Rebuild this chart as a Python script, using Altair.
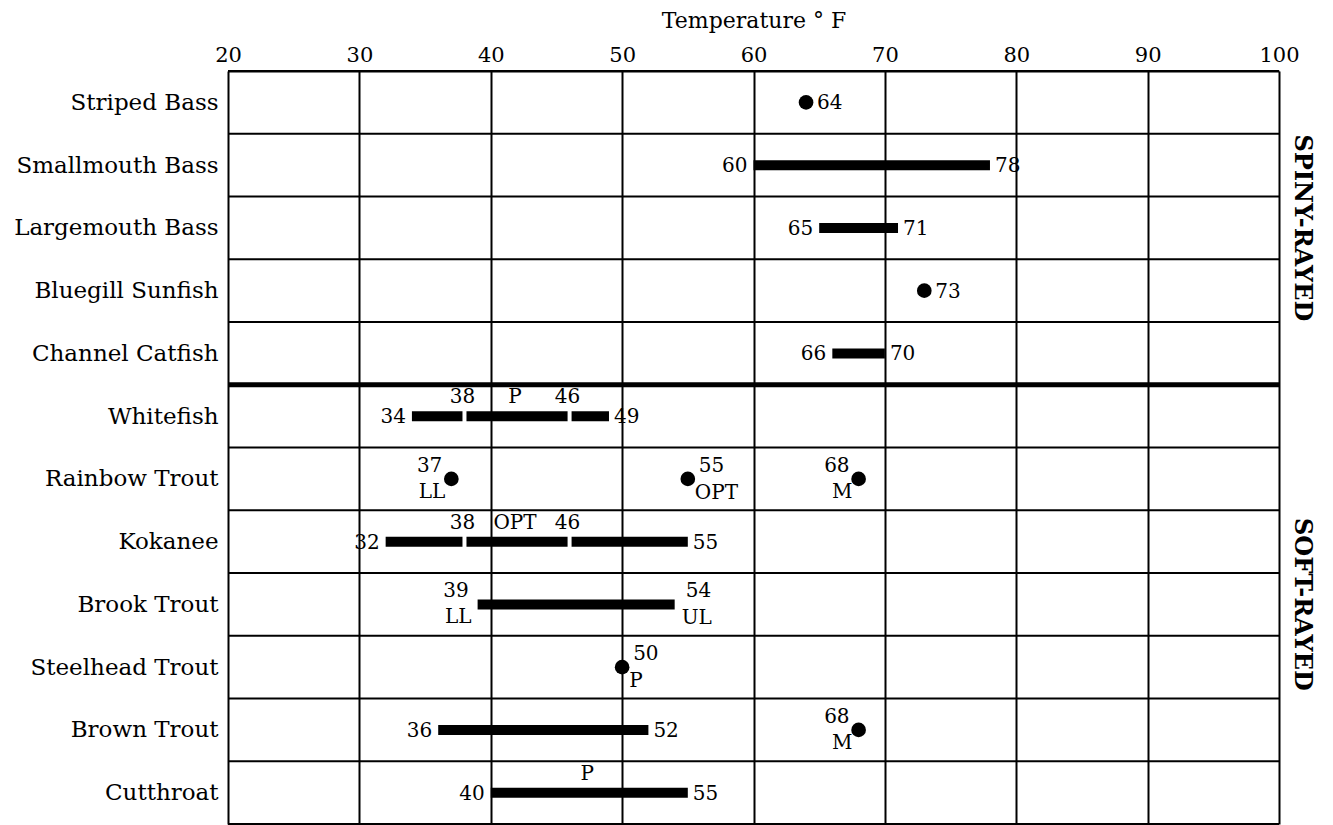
import altair as alt
import pandas as pd

FONT = "DejaVu Serif"

species = ["Striped Bass", "Smallmouth Bass", "Largemouth Bass", "Bluegill Sunfish",
           "Channel Catfish", "Whitefish", "Rainbow  Trout", "Kokanee", "Brook Trout",
           "Steelhead Trout", "Brown Trout", "Cutthroat"]

bar_species = ["Smallmouth Bass", "Largemouth Bass", "Channel Catfish", "Whitefish",
               "Kokanee", "Brook Trout", "Brown Trout", "Cutthroat"]
bar_low = [60, 65, 66, 34, 32, 39, 36, 40]
bar_high = [78, 71, 70, 49, 55, 54, 52, 55]

break_species = ["Whitefish", "Whitefish", "Kokanee", "Kokanee"]
break_temp = [38, 46, 38, 46]

dot_species = ["Striped Bass", "Bluegill Sunfish", "Rainbow  Trout", "Rainbow  Trout",
               "Rainbow  Trout", "Steelhead Trout", "Brown Trout"]
dot_temp = [64, 73, 37, 55, 68, 50, 68]

ann_species = (["Striped Bass"] + ["Smallmouth Bass"] * 2 + ["Largemouth Bass"] * 2
               + ["Bluegill Sunfish"] + ["Channel Catfish"] * 2 + ["Whitefish"] * 5
               + ["Rainbow  Trout"] * 6 + ["Kokanee"] * 5 + ["Brook Trout"] * 4
               + ["Steelhead Trout"] * 2 + ["Brown Trout"] * 4 + ["Cutthroat"] * 3)
ann_temp = [64, 60, 78, 65, 71, 73, 66, 70,
            34, 49, 38, 42, 46,
            37, 37, 55, 55, 68, 68,
            32, 55, 38, 42, 46,
            39, 39, 54, 54,
            50, 50,
            36, 52, 68, 68,
            40, 55, 47.5]
ann_text = ["64", "60", "78", "65", "71", "73", "66", "70",
            "34", "49", "38", "P", "46",
            "37", "LL", "55", "OPT", "68", "M",
            "32", "55", "38", "OPT", "46",
            "39", "LL", "54", "UL",
            "50", "P",
            "36", "52", "68", "M",
            "40", "55", "P"]
ann_place = ["dot_right", "left", "right", "left", "right", "dot_right", "left", "right",
             "left", "right", "above", "above", "above",
             "upper_left", "lower_left", "upper_right", "lower_right", "upper_left", "lower_left",
             "left", "right", "above", "above", "above",
             "upper_left", "lower_left", "upper_right", "lower_right",
             "upper_right", "lower_right",
             "left", "right", "upper_left", "lower_left",
             "left", "right", "above"]

group_names = ["SPINY-RAYED", "SOFT-RAYED"]
group_first_row = [0, 5]
group_last_row = [5, 12]

x_ticks = list(range(20, 101, 10))

# ---- tables ----
row_of = {s: i + 0.5 for i, s in enumerate(species)}
bars = pd.DataFrame({"species": bar_species, "low": bar_low, "high": bar_high})
bars["row"] = bars["species"].map(row_of)
breaks = pd.DataFrame({"species": break_species, "temp": break_temp})
breaks["row"] = breaks["species"].map(row_of)
dots = pd.DataFrame({"species": dot_species, "temp": dot_temp})
dots["row"] = dots["species"].map(row_of)
ann = pd.DataFrame({"species": ann_species, "temp": ann_temp, "text": ann_text, "place": ann_place})
ann["row"] = ann["species"].map(row_of)
bounds = pd.DataFrame({"b": list(range(len(species) + 1))})
bounds["w"] = [5 if b == 5 else 2 for b in bounds["b"]]
groups = pd.DataFrame({"name": group_names,
                       "mid": [(a + b) / 2 for a, b in zip(group_first_row, group_last_row)]})

label_expr = "[" + ",".join("'" + s + "'" for s in species) + "][floor(datum.value)]"

xscale = alt.Scale(domain=[20, 100], nice=False, zero=False)
yscale = alt.Scale(domain=[0, len(species)], reverse=True, nice=False, zero=False)

x_axis = alt.Axis(orient="top", values=x_ticks, grid=True, gridColor="black", gridWidth=2,
                  gridOpacity=1, domainColor="black", domainWidth=2, ticks=False,
                  labelFontSize=21, labelFont=FONT, labelColor="black", labelPadding=6,
                  labelFlush=False, title="Temperature ° F", titleFontSize=22,
                  titleFont=FONT, titleFontWeight="normal", titleColor="black",
                  titlePadding=12)
y_axis = alt.Axis(values=[i + 0.5 for i in range(len(species))], labelExpr=label_expr,
                  grid=False, ticks=False, domain=False, labelFontSize=23, labelFont=FONT,
                  labelColor="black", labelPadding=10, labelLimit=400,
                  minExtent=220, maxExtent=220, title=None)

frame = alt.Chart(bounds).mark_rule(color="black").encode(
    y=alt.Y("b:Q", scale=yscale, axis=y_axis),
    strokeWidth=alt.StrokeWidth("w:Q", scale=None),
)

bar_layer = alt.Chart(bars).mark_rule(color="black", strokeWidth=10, strokeCap="butt").encode(
    x=alt.X("low:Q", scale=xscale, axis=x_axis),
    x2="high:Q",
    y=alt.Y("row:Q", scale=yscale),
)

break_layer = alt.Chart(breaks).mark_tick(color="white", thickness=4, size=16,
                                          orient="vertical", opacity=1).encode(
    x=alt.X("temp:Q", scale=xscale),
    y=alt.Y("row:Q", scale=yscale),
)

dot_layer = alt.Chart(dots).mark_circle(color="black", size=215, opacity=1).encode(
    x=alt.X("temp:Q", scale=xscale),
    y=alt.Y("row:Q", scale=yscale),
)

placements = {
    "left": dict(align="right", dx=-6, dy=1),
    "right": dict(align="left", dx=5, dy=1),
    "dot_right": dict(align="left", dx=11, dy=1),
    "above": dict(align="center", dx=-2, dy=-19),
    "upper_left": dict(align="right", dx=-9, dy=-13),
    "lower_left": dict(align="right", dx=-6, dy=13),
    "upper_right": dict(align="left", dx=11, dy=-13),
    "lower_right": dict(align="left", dx=7, dy=14),
}

text_layers = []
for key, p in placements.items():
    text_layers.append(
        alt.Chart(ann).transform_filter(alt.datum.place == key).mark_text(
            font=FONT, fontSize=20, color="black", baseline="middle", **p
        ).encode(
            x=alt.X("temp:Q", scale=xscale),
            y=alt.Y("row:Q", scale=yscale),
            text="text:N",
        )
    )

W = 1051
H = 753

group_layer = alt.Chart(groups).mark_text(
    font=FONT, fontSize=24, fontWeight="bold", color="black", angle=90,
    align="center", baseline="middle"
).encode(
    x=alt.value(W + 23),
    y=alt.Y("mid:Q", scale=yscale),
    text="name:N",
)

chart = alt.layer(frame, bar_layer, break_layer, dot_layer, *text_layers, group_layer).properties(
    width=W, height=H,
    padding={"left": 0, "top": 1, "right": 5, "bottom": 0},
    background="white",
).configure_view(strokeWidth=0)

chart.save("out.html", embed_options={"renderer": "svg", "actions": False})
